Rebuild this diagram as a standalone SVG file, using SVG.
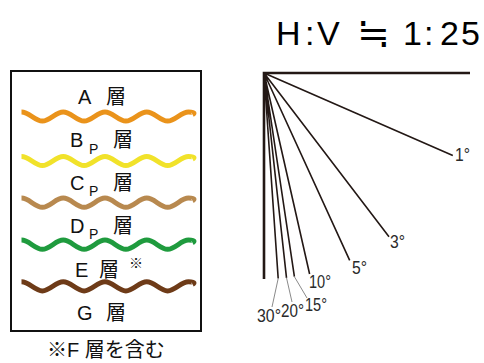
<svg xmlns="http://www.w3.org/2000/svg" width="484" height="363" viewBox="0 0 484 363">
<style>
.lbl{font-family:"Liberation Sans","Noto Sans CJK JP",sans-serif;font-size:20px;fill:#111}
.sub{font-size:14px}
.deg{font-family:"Liberation Sans Narrow","Liberation Sans",sans-serif;font-size:18px;fill:#2a2a2a}
.title{font-family:"Liberation Sans","Noto Sans CJK JP",sans-serif;font-size:34px;fill:#000}
.cjk{font-family:"Noto Sans CJK JP",sans-serif}
.wave{fill:none;stroke-width:5}
.fan{stroke:#231815;stroke-width:1.6;fill:none}
.axis{stroke:#231815;stroke-width:2.6;fill:none}
.lead{stroke:#8a8a8a;stroke-width:1;fill:none}
</style>
<defs>
<path id="w" d="M0,-4.6 C7.6,-4.6 13.275,4.6 20.875,4.6 S34.15,-4.6 41.75,-4.6 S55.025,4.6 62.625,4.6 S75.9,-4.6 83.5,-4.6 S96.775,4.6 104.375,4.6 S117.65,-4.6 125.25,-4.6 S138.525,4.6 146.125,4.6 S159.4,-4.6 167,-4.6 S172.5,-2.8 171,-2"/>
</defs>
<g id="title"><text class="title" y="45"><tspan x="276">H</tspan><tspan x="305">:</tspan><tspan x="317">V</tspan><tspan x="403">1</tspan><tspan x="424">:</tspan><tspan x="440">2</tspan><tspan x="461">5</tspan></text>
<text class="title cjk" font-weight="300" transform="translate(357,47) scale(1.15,1.2)">≒</text></g>
<g id="legend">
<rect x="11" y="71" width="190" height="260" fill="#fff" stroke="#111" stroke-width="2"/>
<g id="layerA"><text class="lbl" y="104"><tspan x="78">A</tspan><tspan x="106">層</tspan></text></g>
<use href="#w" class="wave" stroke="#EA931B" transform="translate(21.5,116.5)"/>
<g id="layerB"><text class="lbl" y="147"><tspan x="70">B</tspan><tspan x="89" dy="7" class="sub">P</tspan><tspan x="113" dy="-7">層</tspan></text></g>
<use href="#w" class="wave" stroke="#F1E22A" transform="translate(21.5,161)"/>
<g id="layerC"><text class="lbl" y="190"><tspan x="70">C</tspan><tspan x="89" dy="6" class="sub">P</tspan><tspan x="113" dy="-6">層</tspan></text></g>
<use href="#w" class="wave" stroke="#B8894F" transform="translate(21.5,202.7)"/>
<g id="layerD"><text class="lbl" y="233"><tspan x="70">D</tspan><tspan x="89" dy="6" class="sub">P</tspan><tspan x="113" dy="-6">層</tspan></text></g>
<use href="#w" class="wave" stroke="#1F9B3E" transform="translate(21.5,244.7)"/>
<g id="layerE"><text class="lbl" y="277"><tspan x="75">E</tspan><tspan x="99">層</tspan></text><text class="lbl sub" x="129" y="268">※</text></g>
<use href="#w" class="wave" stroke="#6E3B18" transform="translate(21.5,286.3)"/>
<g id="layerG"><text class="lbl" y="320"><tspan x="77">G</tspan><tspan x="106">層</tspan></text></g>
</g>
<text id="note" class="lbl" x="47" y="357">※F 層を含む</text>
<g id="fan">
<path class="axis" d="M470,73 H264 V279"/>
<path class="fan" d="M264,73 L452.8,155.5 M264,73 L389,236.7 M264,73 L349.7,260.3 M264,73 L309.6,274 M264,73 L294.4,276.7 M264,73 L286.5,277.8 M264,73 L278.2,278.5"/>
<path class="lead" d="M294.4,276.7 L307,298 M286.5,277.8 L292,302 M278.2,278.5 L272,307"/>
</g>
<g id="degLabels">
<text class="deg" x="455" y="161" textLength="15" lengthAdjust="spacingAndGlyphs">1°</text>
<text class="deg" x="390" y="248" textLength="15" lengthAdjust="spacingAndGlyphs">3°</text>
<text class="deg" x="352" y="274" textLength="15" lengthAdjust="spacingAndGlyphs">5°</text>
<text class="deg" x="309" y="288" textLength="22" lengthAdjust="spacingAndGlyphs">10°</text>
<text class="deg" x="305" y="311" textLength="22" lengthAdjust="spacingAndGlyphs">15°</text>
<text class="deg" x="281" y="317" textLength="23" lengthAdjust="spacingAndGlyphs">20°</text>
<text class="deg" x="257" y="322" textLength="24" lengthAdjust="spacingAndGlyphs">30°</text>
</g>
</svg>
